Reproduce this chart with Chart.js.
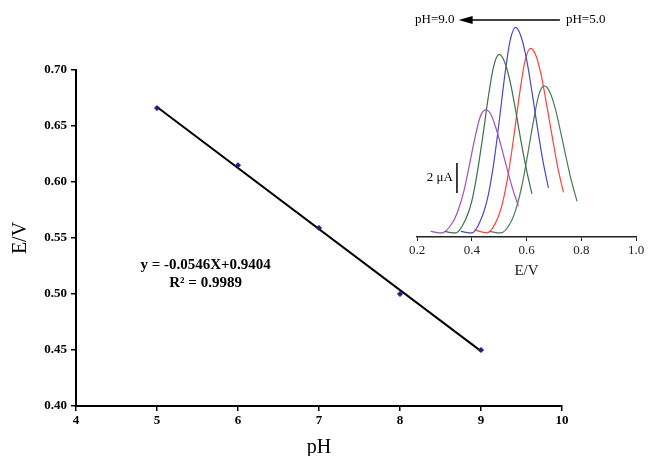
<!DOCTYPE html>
<html>
<head>
<meta charset="utf-8">
<script src="https://cdn.jsdelivr.net/npm/chart.js@4.4.0/dist/chart.umd.min.js"></script>
<style>
  body { margin: 0; background: #fff; }
  #wrap { position: relative; width: 648px; height: 456px; }
  #main { position: absolute; left: 0; top: 0; }
  #inset { position: absolute; left: 400px; top: 0; }
</style>
</head>
<body>
<div id="wrap">
  <canvas id="main" width="648" height="456"></canvas>
  <canvas id="inset" width="248" height="280"></canvas>
</div>
<script>
// main plot: peak potential vs pH
let phValues = [5, 6, 7, 8, 9]
let potentials = [0.666, 0.615, 0.559, 0.500, 0.450]
let fitX = [5, 9]
let fitY = [0.667, 0.449]
let yTicks = [0.40, 0.45, 0.50, 0.55, 0.60, 0.65, 0.70]

// inset: DPV curves, pH 9.0 -> 5.0 (E in V, current in uA)
let curveColors = ['#a050b8', '#3f6e48', '#4848c8', '#ff4040', '#4a7a55']
let curveE = [
    [0.25, 0.29, 0.33, 0.35, 0.37, 0.39, 0.41, 0.43, 0.45, 0.47, 0.49, 0.51, 0.53, 0.55, 0.57],
    [0.30, 0.34, 0.38, 0.40, 0.42, 0.44, 0.46, 0.48, 0.50, 0.52, 0.54, 0.56, 0.58, 0.60, 0.62],
    [0.36, 0.40, 0.44, 0.46, 0.48, 0.50, 0.52, 0.54, 0.56, 0.58, 0.60, 0.62, 0.64, 0.66, 0.68],
    [0.41, 0.455, 0.495, 0.515, 0.535, 0.555, 0.575, 0.595, 0.615, 0.635, 0.655, 0.675, 0.695, 0.715, 0.735],
    [0.465, 0.505, 0.545, 0.565, 0.585, 0.605, 0.625, 0.645, 0.665, 0.685, 0.705, 0.725, 0.745, 0.765, 0.785]
]
let curveI = [
    [0.1, 0.0, 0.7, 1.5, 2.7, 4.4, 6.2, 7.7, 8.2, 7.9, 6.9, 5.6, 4.2, 2.9, 1.8],
    [0.1, 0.0, 1.0, 2.1, 4.0, 6.4, 9.0, 11.1, 11.9, 11.4, 10.1, 8.2, 6.1, 4.2, 2.6],
    [0.1, 0.0, 1.2, 2.5, 4.6, 7.4, 10.4, 12.8, 13.7, 13.1, 11.6, 9.4, 7.0, 4.8, 3.0],
    [0.2, 0.0, 1.0, 2.2, 4.1, 6.6, 9.3, 11.5, 12.3, 11.8, 10.4, 8.4, 6.3, 4.3, 2.7],
    [0.1, 0.0, 0.8, 1.8, 3.3, 5.3, 7.4, 9.2, 9.8, 9.4, 8.3, 6.7, 5.0, 3.4, 2.1]
]
let insetTicks = [0.2, 0.4, 0.6, 0.8, 1.0]

const serif = "'Liberation Serif', 'Times New Roman', serif"

function initMain() {
    const ctx = document.getElementById('main').getContext('2d');
    const pts = phValues.map((x, i) => ({ x: x, y: potentials[i] }))
    const fit = fitX.map((x, i) => ({ x: x, y: fitY[i] }))

    const equation = {
        id: 'equation',
        afterDraw(chart) {
            const c = chart.ctx
            const xs = chart.scales.x, ys = chart.scales.y
            c.save()
            c.fillStyle = '#000'
            c.textAlign = 'center'
            c.textBaseline = 'middle'
            c.font = 'bold 15px ' + serif
            const cx = xs.getPixelForValue(5.6)
            c.fillText('y = -0.0546X+0.9404', cx, ys.getPixelForValue(0.526))
            c.fillText('R\u00b2 = 0.9989', cx, ys.getPixelForValue(0.510))
            c.restore()
        }
    }

    new Chart(ctx, {
        type: 'scatter',
        data: {
            datasets: [{
                data: pts,
                pointStyle: 'rectRot',
                pointRadius: 2.5,
                backgroundColor: '#1c1c80',
                borderColor: '#1c1c80',
                showLine: false
            }, {
                data: fit,
                showLine: true,
                borderColor: '#000',
                borderWidth: 2,
                pointRadius: 0
            }]
        },
        options: {
            responsive: false,
            animation: false,
            layout: { padding: { top: 70, right: 86, left: 0, bottom: 0 } },
            plugins: { legend: { display: false }, tooltip: { enabled: false } },
            scales: {
                x: {
                    type: 'linear', min: 4, max: 10,
                    grid: { drawOnChartArea: false, color: '#000', tickLength: 5, lineWidth: 1.5 },
                    border: { color: '#000', width: 2 },
                    ticks: { stepSize: 1, color: '#000', font: { family: serif, size: 13, weight: 'bold' }, padding: 2 },
                    title: { display: true, text: 'pH', color: '#000', font: { family: serif, size: 20 }, padding: { top: 0, bottom: -4 } },
                    afterFit(scale) { scale.height = 50 }
                },
                y: {
                    type: 'linear', min: 0.4, max: 0.7,
                    afterBuildTicks(scale) { scale.ticks = yTicks.map(v => ({ value: v })) },
                    grid: { drawOnChartArea: false, color: '#000', tickLength: 5, lineWidth: 1.5 },
                    border: { color: '#000', width: 2 },
                    ticks: { color: '#000', font: { family: serif, size: 13, weight: 'bold' }, padding: 4,
                             callback: v => v.toFixed(2) },
                    title: { display: true, text: 'E/V', color: '#000', font: { family: serif, size: 20 }, padding: 9 },
                    afterFit(scale) { scale.width = 76 }
                }
            }
        },
        plugins: [equation]
    });
}

function initInset() {
    const ctx = document.getElementById('inset').getContext('2d');
    const datasets = curveE.map((es, k) => ({
        data: es.map((e, i) => ({ x: e, y: curveI[k][i] })),
        showLine: true,
        borderColor: curveColors[k],
        borderWidth: 1.2,
        pointRadius: 0,
        cubicInterpolationMode: 'monotone'
    }))

    const notes = {
        id: 'notes',
        afterDraw(chart) {
            const c = chart.ctx
            const xs = chart.scales.x, ys = chart.scales.y
            c.save()
            c.fillStyle = '#000'
            c.strokeStyle = '#000'
            c.font = '13px ' + serif
            c.textBaseline = 'middle'
            const ay = ys.getPixelForValue(14.2)
            c.textAlign = 'right'
            c.fillText('pH=9.0', xs.getPixelForValue(0.337), ay)
            c.textAlign = 'left'
            c.fillText('pH=5.0', xs.getPixelForValue(0.744), ay)
            const a0 = xs.getPixelForValue(0.352), a1 = xs.getPixelForValue(0.722)
            c.lineWidth = 1.5
            c.beginPath(); c.moveTo(a0 + 8, ay); c.lineTo(a1, ay); c.stroke()
            c.beginPath(); c.moveTo(a0, ay); c.lineTo(a0 + 14, ay - 4); c.lineTo(a0 + 14, ay + 4); c.closePath(); c.fill()
            // 2 uA scale bar
            const bx = xs.getPixelForValue(0.346)
            c.lineWidth = 1.5
            c.beginPath(); c.moveTo(bx, ys.getPixelForValue(2.67)); c.lineTo(bx, ys.getPixelForValue(4.67)); c.stroke()
            c.font = '13px ' + serif
            c.textAlign = 'right'
            c.fillText('2 \u03bcA', bx - 4, ys.getPixelForValue(3.67))
            c.restore()
        }
    }

    new Chart(ctx, {
        type: 'scatter',
        data: { datasets: datasets },
        options: {
            responsive: false,
            animation: false,
            layout: { padding: { top: 0, right: 12, left: 17, bottom: 0 } },
            plugins: { legend: { display: false }, tooltip: { enabled: false } },
            scales: {
                x: {
                    type: 'linear', min: 0.2, max: 1.0,
                    afterBuildTicks(scale) { scale.ticks = insetTicks.map(v => ({ value: v })) },
                    grid: { drawOnChartArea: false, color: '#222', tickLength: 4 },
                    border: { color: '#222', width: 1.5 },
                    ticks: { color: '#222', font: { family: serif, size: 13 }, padding: 2,
                             callback: v => v.toFixed(1) },
                    title: { display: true, text: 'E/V', color: '#222', font: { family: serif, size: 15 }, padding: 0 },
                    afterFit(scale) { scale.height = 43 }
                },
                y: { display: false, min: -0.27, max: 15.53 }
            }
        },
        plugins: [notes]
    });
}

initMain()
initInset()
</script>
</body>
</html>
